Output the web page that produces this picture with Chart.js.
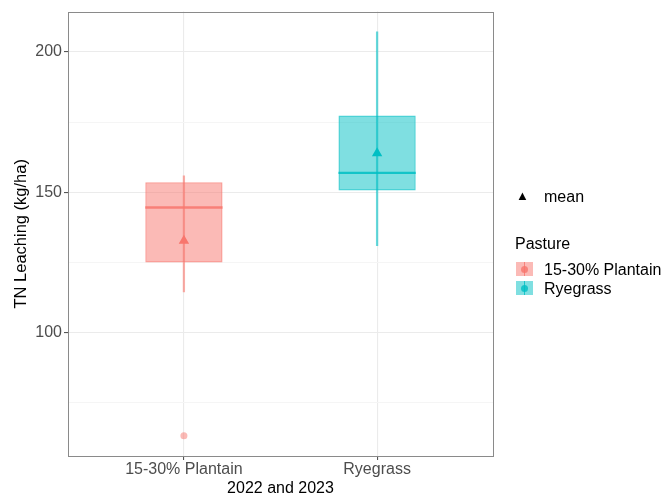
<!DOCTYPE html>
<html>
<head>
<meta charset="utf-8">
<script src="https://cdn.jsdelivr.net/npm/chart.js@4.4.1/dist/chart.umd.min.js"></script>
<style>
  html, body { margin: 0; padding: 0; background: #fff; }
  #wrap { position: relative; width: 668px; height: 501px; font-family: "Liberation Sans", Arial, sans-serif; }
  #chart { position: absolute; left: 0; top: 0; }
  .lg { position: absolute; font-size: 16px; color: #000; white-space: nowrap; line-height: 1; }
  .key { position: absolute; width: 17px; height: 14px; }
  .key .dot { position: absolute; left: 5px; top: 3.5px; width: 7px; height: 7px; border-radius: 50%; }
  .key .ln { position: absolute; left: 8px; top: 0; width: 1px; height: 14px; }
</style>
</head>
<body>
<div id="wrap">
  <canvas id="chart" width="668" height="501"></canvas>
  <div class="lg" style="left:516px;top:189px;font-size:13px;">&#9650;</div>
  <div class="lg" style="left:544px;top:189px;">mean</div>
  <div class="lg" style="left:515px;top:236px;">Pasture</div>
  <div class="key" id="key0" style="left:516px;top:262px;"><div class="ln"></div><div class="dot"></div></div>
  <div class="lg" style="left:544px;top:262px;">15-30% Plantain</div>
  <div class="key" id="key1" style="left:516px;top:281px;"><div class="ln"></div><div class="dot"></div></div>
  <div class="lg" style="left:544px;top:281px;">Ryegrass</div>
</div>
<script>
var categories = ['15-30% Plantain', 'Ryegrass'];
var whiskerLow = [114.5, 131.0];
var q1 = [125.0, 150.6];
var median = [144.6, 156.9];
var q3 = [153.6, 177.4];
var whiskerHigh = [155.9, 207.2];
var means = [132.7, 163.9];
var outliers = [[63.2], []];
var yTicks = [100, 150, 200];

var colors = ['#F8766D', '#00BFC4'];

function rgba(hex, a) {
  var n = parseInt(hex.slice(1), 16);
  return 'rgba(' + (n >> 16) + ',' + ((n >> 8) & 255) + ',' + (n & 255) + ',' + a + ')';
}

// legend keys
colors.forEach(function (c, i) {
  var k = document.getElementById('key' + i);
  k.style.background = rgba(c, 0.5);
  k.querySelector('.dot').style.background = rgba(c, 0.8);
  k.querySelector('.ln').style.background = rgba(c, 0.8);
});

var xs = categories.map(function (c, i) { return i + 1; });

var boxData = xs.map(function (x, i) { return { x: x, y: [q1[i], q3[i]] }; });
var whiskerData = xs.map(function (x, i) { return { x: x, y: [whiskerLow[i], whiskerHigh[i]] }; });
var meanData = xs.map(function (x, i) { return { x: x, y: means[i] }; });
var outlierData = [];
var outlierColors = [];
outliers.forEach(function (list, i) {
  list.forEach(function (v) { outlierData.push({ x: xs[i], y: v }); outlierColors.push(rgba(colors[i], 0.5)); });
});

// median lines + panel border, positioned through the scales
var boxExtras = {
  id: 'boxExtras',
  afterDatasetsDraw: function (chart) {
    var ctx = chart.ctx, sx = chart.scales.x, sy = chart.scales.y;
    var half = sx.getPixelForValue(1.2) - sx.getPixelForValue(1);
    ctx.save();
    median.forEach(function (m, i) {
      var cx = sx.getPixelForValue(xs[i]);
      var py = sy.getPixelForValue(m);
      ctx.strokeStyle = rgba(colors[i], 0.85);
      ctx.lineWidth = 2.4;
      ctx.beginPath();
      ctx.moveTo(cx - half, py);
      ctx.lineTo(cx + half, py);
      ctx.stroke();
    });
    ctx.restore();
  },
  afterDraw: function (chart) {
    var a = chart.chartArea, ctx = chart.ctx;
    ctx.save();
    ctx.strokeStyle = '#8a8a8a';
    ctx.lineWidth = 1;
    ctx.strokeRect(Math.round(a.left) + 0.5, Math.round(a.top) + 0.5, Math.round(a.right - a.left), Math.round(a.bottom - a.top));
    ctx.restore();
  }
};

new Chart(document.getElementById('chart'), {
  type: 'bar',
  data: {
    datasets: [
      {
        type: 'scatter',
        label: 'mean',
        data: meanData,
        pointStyle: 'triangle',
        pointRadius: 6,
        backgroundColor: colors,
        borderColor: colors,
        borderWidth: 0,
        order: 0
      },
      {
        type: 'scatter',
        label: 'outliers',
        data: outlierData,
        pointRadius: 3.5,
        backgroundColor: outlierColors,
        borderWidth: 0,
        order: 1
      },
      {
        label: 'box',
        data: boxData,
        backgroundColor: colors.map(function (c) { return rgba(c, 0.5); }),
        borderColor: colors.map(function (c) { return rgba(c, 0.7); }),
        borderWidth: 1.5,
        borderSkipped: false,
        grouped: false,
        categoryPercentage: 0.4,
        barPercentage: 1,
        order: 2
      },
      {
        label: 'whisker',
        data: whiskerData,
        backgroundColor: colors.map(function (c) { return rgba(c, 0.6); }),
        borderWidth: 0,
        grouped: false,
        barThickness: 1.6,
        order: 3
      }
    ]
  },
  options: {
    responsive: false,
    animation: false,
    layout: { padding: { left: 0, top: 7, right: 175, bottom: 0 } },
    plugins: { legend: { display: false }, tooltip: { enabled: false } },
    scales: {
      x: {
        type: 'linear',
        offset: false,
        min: 0.4,
        max: 2.6,
        afterBuildTicks: function (scale) {
          scale.ticks = xs.map(function (v) { return { value: v }; });
        },
        afterFit: function (scale) { scale.height = 45; },
        ticks: {
          callback: function (v) { return categories[v - 1]; },
          color: '#4d4d4d',
          font: { family: 'Liberation Sans', size: 16 },
          padding: 0,
          maxRotation: 0,
          autoSkip: false
        },
        grid: { offset: false, color: '#ebebeb', lineWidth: 1.1, tickLength: 4, tickColor: '#555' },
        border: { display: false },
        title: {
          display: true,
          text: '2022 and 2023',
          color: '#000',
          font: { family: 'Liberation Sans', size: 16 },
          padding: { top: 0, bottom: 3 }
        }
      },
      y: {
        type: 'linear',
        min: 56,
        max: 214.4,
        afterBuildTicks: function (scale) {
          var t = [];
          for (var v = 75; v <= 200; v += 25) t.push({ value: v });
          scale.ticks = t;
        },
        afterFit: function (scale) { scale.width = 68; },
        ticks: {
          callback: function (v) { return yTicks.indexOf(v) >= 0 ? String(v) : ''; },
          color: '#4d4d4d',
          font: { family: 'Liberation Sans', size: 16 },
          padding: 2
        },
        grid: {
          color: function (c) { return yTicks.indexOf(c.tick.value) >= 0 ? '#ebebeb' : '#f5f5f5'; },
          lineWidth: 1.1,
          tickLength: 4,
          tickColor: function (c) { return yTicks.indexOf(c.tick.value) >= 0 ? '#555' : 'rgba(0,0,0,0)'; }
        },
        border: { display: false },
        title: {
          display: true,
          text: 'TN Leaching (kg/ha)',
          color: '#000',
          font: { family: 'Liberation Sans', size: 16.5 },
          padding: { top: 12, bottom: 0 }
        }
      }
    }
  },
  plugins: [boxExtras]
});
</script>
</body>
</html>
